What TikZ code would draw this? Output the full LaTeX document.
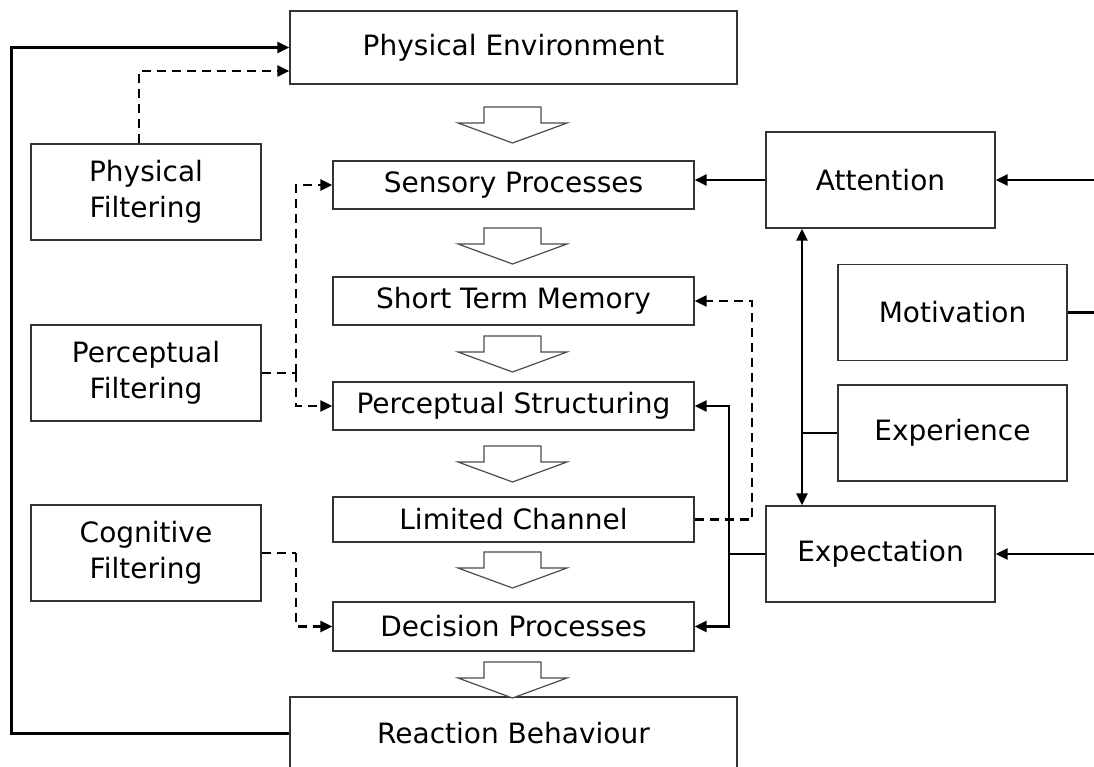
\documentclass[tikz,border=0pt]{standalone}
\usepackage{fontspec}
\setmainfont{DejaVu Sans}
\usetikzlibrary{arrows.meta}
\begin{document}
\begin{tikzpicture}[x=1pt,y=-1pt,
  box/.style={draw=black!80, line width=1.3pt, inner sep=0pt, align=center,
    font=\fontsize{28}{36}\selectfont},
  conn/.style={line width=2.3pt, black},
  dconn/.style={line width=2.2pt, black, dash pattern=on 9pt off 6pt},
  tip/.style={-{Triangle[length=12pt,width=11pt]}},
  tips/.style={{Triangle[length=12pt,width=11pt]}-{Triangle[length=12pt,width=11pt]}},
  blockarrow/.style={draw=black!70, line width=1.2pt, fill=white}
]
\useasboundingbox (0,0) rectangle (1094,767);
\clip (0,0) rectangle (1094,767);

% central column
\node[box, minimum width=447pt, minimum height=73pt] (PE) at (513.5,47.5) {Physical Environment};
\node[box, minimum width=361pt, minimum height=48pt] (SP) at (513.5,185) {Sensory Processes};
\node[box, minimum width=361pt, minimum height=48pt] (STM) at (513.5,301) {Short Term Memory};
\node[box, minimum width=361pt, minimum height=48pt] (PS) at (513.5,406) {Perceptual Structuring};
\node[box, minimum width=361pt, minimum height=45pt] (LC) at (513.5,519.5) {Limited Channel};
\node[box, minimum width=361pt, minimum height=49pt] (DP) at (513.5,626.5) {Decision Processes};
\node[box, minimum width=447pt, minimum height=73pt] (RB) at (513.5,733.5) {Reaction Behaviour};

% left column
\node[box, minimum width=230pt, minimum height=96pt] (PhF) at (146,192) {Physical\\Filtering};
\node[box, minimum width=230pt, minimum height=96pt] (PcF) at (146,373) {Perceptual\\Filtering};
\node[box, minimum width=230pt, minimum height=96pt] (CgF) at (146,553) {Cognitive\\Filtering};

% right column
\node[box, minimum width=229pt, minimum height=96pt] (Att) at (880.5,180) {Attention};
\node[box, minimum width=229pt, minimum height=96pt] (Mot) at (952.5,312.5) {Motivation};
\node[box, minimum width=229pt, minimum height=96pt] (Exr) at (952.5,433) {Experience};
\node[box, minimum width=229pt, minimum height=96pt] (Exp) at (880.5,554) {Expectation};

% block arrows
\foreach \t in {107,228,336,446,552,662}{
  \draw[blockarrow] (484,\t) -- (541,\t) -- (541,\t+16) -- (567,\t+16)
    -- (512.5,\t+36) -- (458,\t+16) -- (484,\t+16) -- cycle;
}

% feedback loop
\draw[conn, tip] (RB.west) -- ++(-278,0) |- (PE.west);

% filtering (dashed)
\draw[dconn, tip] ([xshift=-7pt]PhF.north) |- (PE.west |- 0,71);
\coordinate (jP) at (296,373);
\draw[dconn] (PcF.east) -- (jP);
\draw[dconn, tip] (jP) |- (SP.west);
\draw[dconn, tip] (jP) |- (PS.west);
\coordinate (jC) at (296,553);
\draw[dconn] (CgF.east) -- (jC);
\draw[dconn, tip] (jC) |- (DP.west);

% limited channel feedback to STM
\coordinate (jL) at (752,519.5);
\draw[dconn, tip] (LC.east) -- (jL) |- (STM.east);

% attention
\draw[conn, tip] (Att.west) -- (Att.west -| SP.east);
\coordinate (inA) at (1094,180);
\draw[conn, tip] (inA) -- (Att.east);

% motivation
\coordinate (outM) at (1094,312.5);
\draw[conn] (Mot.east) -- (outM);

% attention <-> expectation
\coordinate (vA) at (802,0);
\draw[conn, tips] (Att.south -| vA) -- (Exp.north -| vA);
\draw[conn] (Exr.west) -- (Exr.west -| vA);

% expectation
\coordinate (inE) at (1094,554);
\draw[conn, tip] (inE) -- (Exp.east);
\coordinate (jE) at (729,554);
\draw[conn] (Exp.west) -- (jE);
\draw[conn, tip] (jE) |- (PS.east);
\draw[conn, tip] (jE) |- (DP.east);
\end{tikzpicture}
\end{document}
